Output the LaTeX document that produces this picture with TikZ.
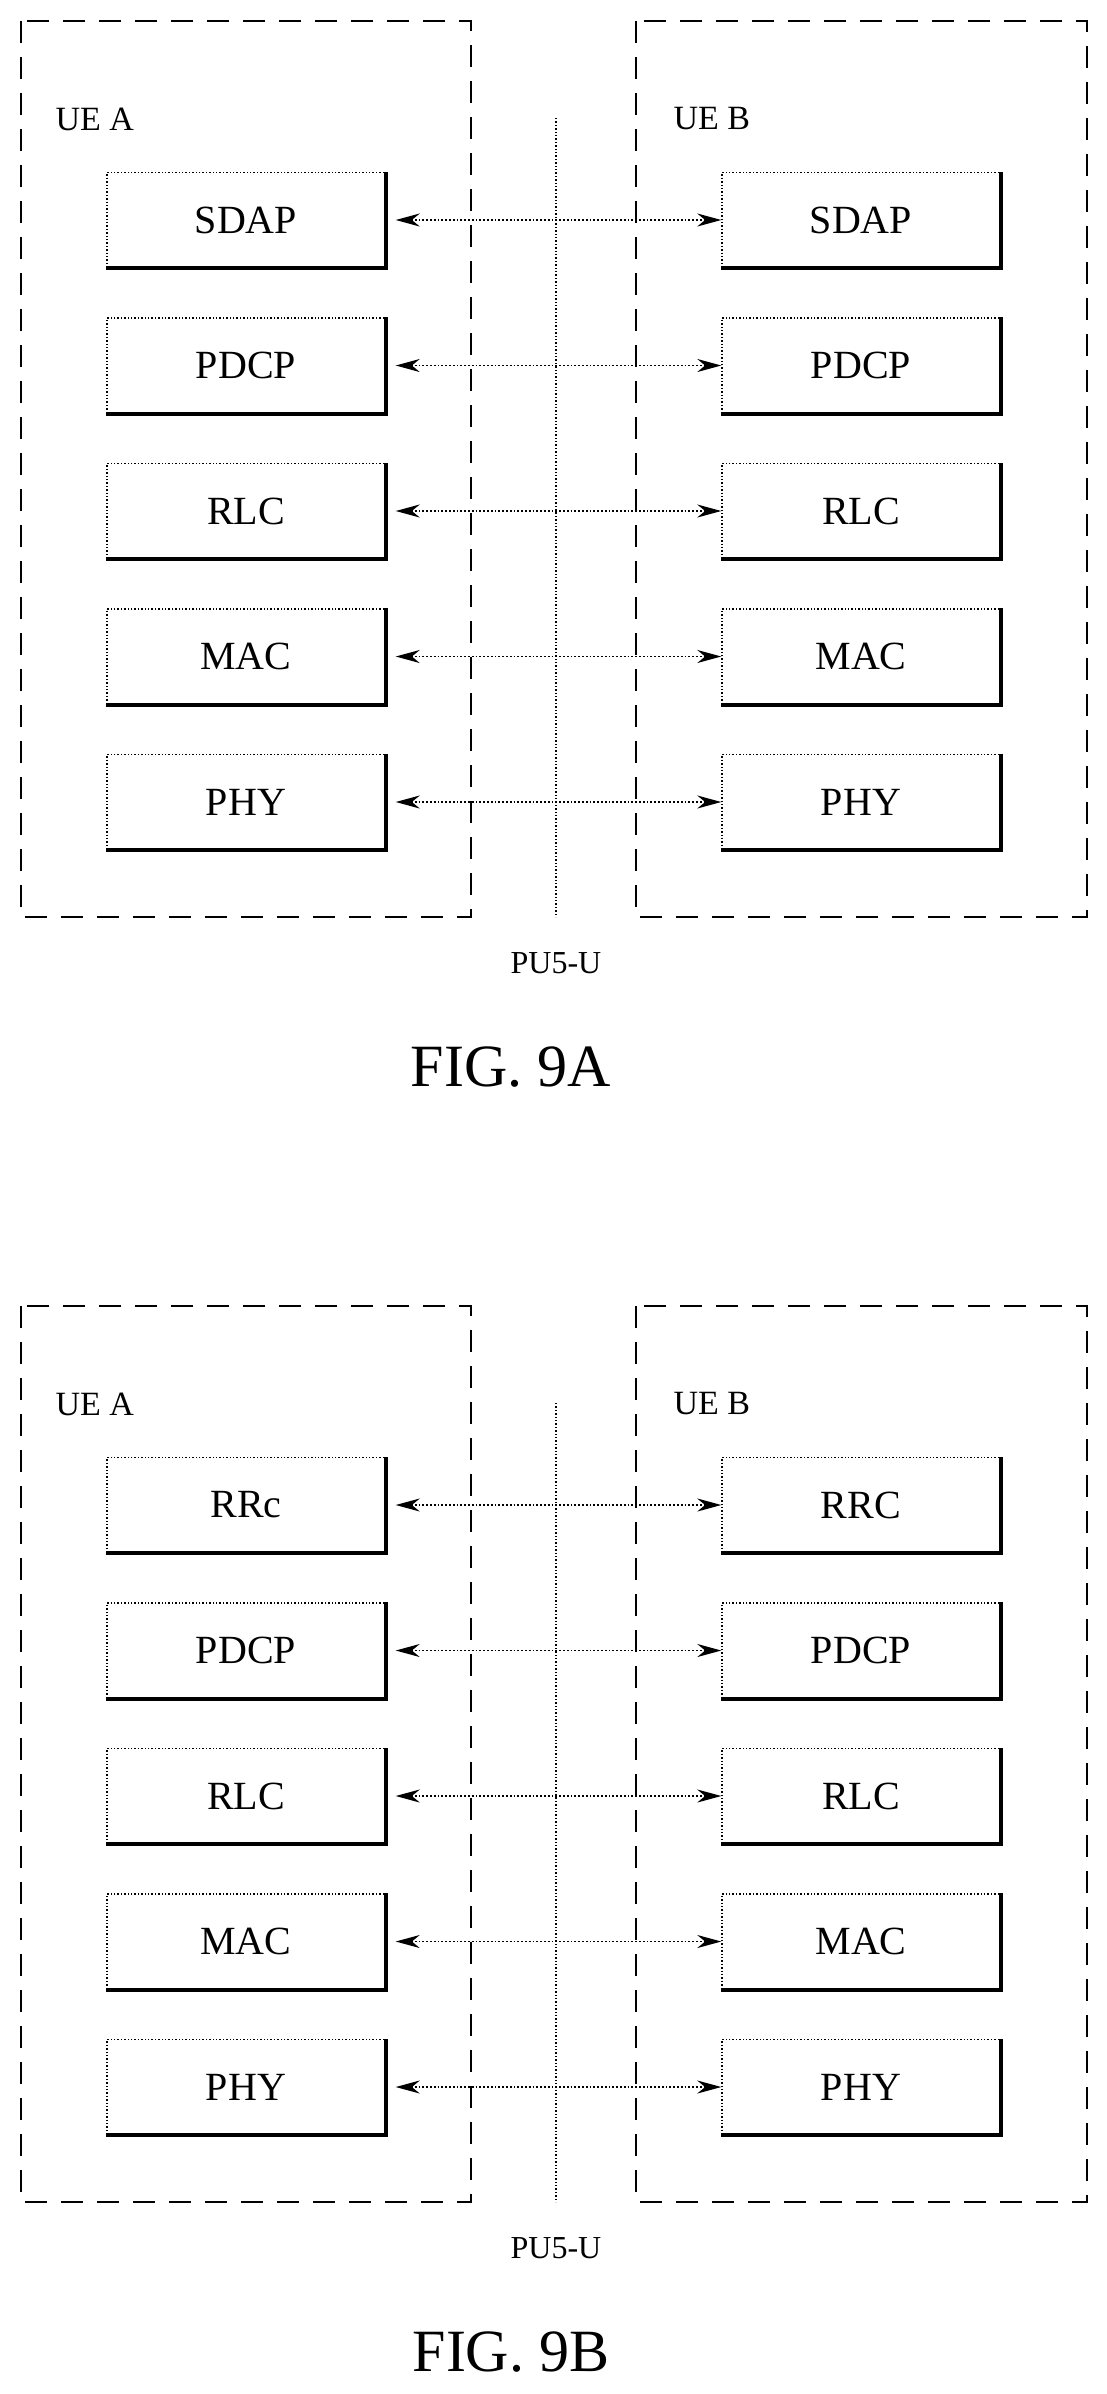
\documentclass[tikz,border=0pt]{standalone}
\usepackage{fontspec}
\setmainfont{Liberation Serif}
\usetikzlibrary{arrows.meta}
\tikzset{
 outer/.style={draw, dash pattern=on 22pt off 14pt, line width=1.6pt},
 layer/.style={draw, dotted, line width=1.4pt, minimum width=278pt, minimum height=95pt, inner sep=0pt, font=\fontsize{40}{44}\selectfont},
 shade/.style={line width=3.6pt},
 link/.style={dotted, line width=1.8pt, {Stealth[length=24pt,width=13pt]}-{Stealth[length=24pt,width=13pt]}},
 ue/.style={anchor=west, font=\fontsize{34}{38}\selectfont},
 ifc/.style={font=\fontsize{32}{36}\selectfont},
 fig/.style={font=\fontsize{60}{66}\selectfont},
 sep/.style={dotted, line width=1.4pt}
}
\newcommand\onefig[5]{% #1 prefix, #2 y top outer, #3 first row y, #4 rows, #5 fig name
 \draw[outer] (21,#2) rectangle (471,#2+896);
 \draw[outer] (636,#2) rectangle (1087,#2+896);
 \node[ue] (#1uea) at (52,#2+98) {UE A};
 \node[ue] (#1ueb) at (670,#2+98) {UE B};
 \coordinate (#1st) at (556,#2+97);
 \coordinate (#1sb) at (556,#2+896);
 \draw[sep] (#1st) -- (#1sb);
 \foreach \n/\lt/\rt [count=\i from 0] in {#4} {
  \node[layer] (#1L\i) at (246,#3+\i*145.5) {\lt};
  \node[layer] (#1R\i) at (861,#3+\i*145.5) {\rt};
  \draw[shade] (#1L\i.north east) -- (#1L\i.south east) -- (#1L\i.south west);
  \draw[shade] (#1R\i.north east) -- (#1R\i.south east) -- (#1R\i.south west);
  \draw[link] ([xshift=10pt]#1L\i.east) -- (#1R\i.west);
 }
 \node[ifc] (#1pu) at (556,#2+942) {PU5-U};
 \node[fig] (#1fig) at (511,#2+1046) {#5};
}
\begin{document}
\begin{tikzpicture}[x=1pt,y=-1pt]
\useasboundingbox[fill=white] (0,0) rectangle (1106,2394);
\onefig{a}{21}{220}{a/SDAP/SDAP,b/PDCP/PDCP,c/RLC/RLC,d/MAC/MAC,e/PHY/PHY}{FIG. 9A}
\onefig{b}{1306}{1505}{a/RRc/RRC,b/PDCP/PDCP,c/RLC/RLC,d/MAC/MAC,e/PHY/PHY}{FIG. 9B}
\end{tikzpicture}
\end{document}
